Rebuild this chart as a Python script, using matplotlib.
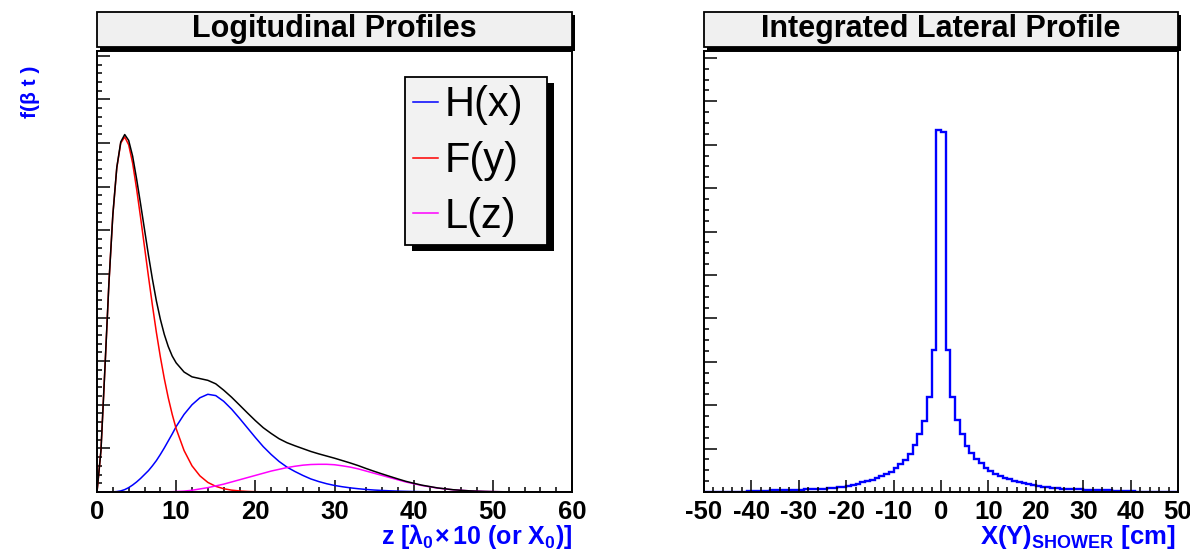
import numpy as np
import matplotlib
matplotlib.use("Agg")
import matplotlib.pyplot as plt
import matplotlib.patheffects as pe
from matplotlib.patches import Rectangle
from matplotlib.ticker import MultipleLocator, NullFormatter

plt.rcParams['font.family'] = ['Liberation Sans', 'DejaVu Sans']
plt.rcParams['mathtext.fontset'] = 'custom'
plt.rcParams['mathtext.rm'] = 'Liberation Sans'
plt.rcParams['mathtext.bf'] = 'Liberation Sans:bold'
plt.rcParams['mathtext.it'] = 'Liberation Sans:italic'

# longitudinal profiles: depth grid and the three components
z = [0, 0.5, 1, 1.5, 2, 2.5, 3, 3.5, 4, 4.5, 5, 5.5, 6, 6.5, 7, 7.5, 8, 8.5, 9, 9.5, 10,
     11, 12, 13, 14, 15, 16, 17, 18, 19, 20, 21, 22, 23, 24, 25, 26, 27, 28, 29, 30,
     31, 32, 33, 34, 35, 36, 37, 38, 39, 40, 41, 42, 43, 44, 45, 46, 47, 48, 49, 50,
     51, 52, 53, 54, 55, 56, 57, 58, 59, 60]

h_x = [0, 0, 0, 0, 0.003, 0.01, 0.025, 0.055, 0.1, 0.16, 0.23, 0.31, 0.4, 0.49, 0.6, 0.72, 0.86, 1.01, 1.17, 1.33, 1.5,
       1.78, 2.0, 2.16, 2.24, 2.21, 2.08, 1.9, 1.69, 1.47, 1.25, 1.04, 0.86, 0.7, 0.57, 0.47, 0.38, 0.3, 0.24, 0.19, 0.15,
       0.12, 0.095, 0.075, 0.058, 0.045, 0.035, 0.027, 0.02, 0.015, 0.011, 0.008, 0.006, 0.004, 0.003, 0.002, 0.001, 0, 0, 0, 0,
       0, 0, 0, 0, 0, 0, 0, 0, 0, 0]

f_y = [0, 0.95, 2.83, 4.77, 6.35, 7.43, 8.0, 8.14, 7.96, 7.54, 6.95, 6.3, 5.62, 4.94, 4.28, 3.66, 3.1, 2.6, 2.16, 1.78, 1.45,
       0.95, 0.6, 0.37, 0.22, 0.13, 0.075, 0.043, 0.024, 0.013, 0.007, 0.004, 0.002, 0.001, 0, 0, 0, 0, 0, 0, 0,
       0, 0, 0, 0, 0, 0, 0, 0, 0, 0, 0, 0, 0, 0, 0, 0, 0, 0, 0, 0,
       0, 0, 0, 0, 0, 0, 0, 0, 0, 0]

l_z = [0, 0, 0, 0, 0, 0, 0, 0, 0, 0, 0, 0, 0, 0, 0, 0.001, 0.002, 0.003, 0.005, 0.007, 0.01,
       0.02, 0.04, 0.07, 0.1, 0.14, 0.18, 0.23, 0.28, 0.33, 0.38, 0.43, 0.48, 0.52, 0.56, 0.59, 0.615, 0.63, 0.635, 0.635, 0.625,
       0.6, 0.57, 0.53, 0.48, 0.43, 0.38, 0.33, 0.28, 0.23, 0.19, 0.15, 0.12, 0.09, 0.07, 0.05, 0.038, 0.027, 0.019, 0.013, 0.009,
       0.006, 0.004, 0.003, 0.002, 0.001, 0, 0, 0, 0, 0]

# integrated lateral profile, 1 cm bins from -50 to 50
bin_edges = list(range(-50, 51))
lateral = [0, 0, 0, 0, 0, 0, 0, 0, 0.01, 0.02,
           0.02, 0.025, 0.03, 0.03, 0.035, 0.04, 0.04, 0.045, 0.05, 0.05,
           0.055, 0.06, 0.065, 0.07, 0.075, 0.08, 0.09, 0.10, 0.11, 0.12,
           0.14, 0.16, 0.19, 0.22, 0.25, 0.28, 0.32, 0.36, 0.41, 0.47,
           0.55, 0.64, 0.74, 0.87, 1.08, 1.34, 1.64, 2.20, 3.28, 8.33,
           8.30, 3.26, 2.19, 1.65, 1.34, 1.06, 0.90, 0.75, 0.66, 0.56,
           0.48, 0.42, 0.37, 0.33, 0.29, 0.26, 0.23, 0.20, 0.18, 0.155,
           0.14, 0.12, 0.11, 0.10, 0.09, 0.08, 0.075, 0.07, 0.065, 0.06,
           0.055, 0.05, 0.045, 0.04, 0.04, 0.035, 0.03, 0.03, 0.025, 0.02,
           0.02, 0.01, 0, 0, 0, 0, 0, 0, 0, 0]

total = np.array(h_x) + np.array(f_y) + np.array(l_z)

W, H = 1190, 552
fig = plt.figure(figsize=(W / 100, H / 100), dpi=100)
ax1 = fig.add_axes([97 / W, 60 / H, 475 / W, 441 / H])
ax2 = fig.add_axes([704 / W, 60 / H, 474 / W, 441 / H])

shadow = [pe.SimplePatchShadow(offset=(2.5, -2.5), shadow_rgbFace='black', alpha=1), pe.Normal()]


def style_axes(ax, title):
    for s in ax.spines.values():
        s.set_linewidth(1.4)
    ax.tick_params(which='both', direction='in', top=False, right=False, width=1.1)
    ax.tick_params(which='major', length=9, labelsize=18.5, pad=6)
    ax.tick_params(which='minor', length=3.6)
    ax.yaxis.set_major_formatter(NullFormatter())
    box = Rectangle((0, 1.008), 1.0, 0.081, transform=ax.transAxes, clip_on=False,
                    facecolor='#f0f0f0', edgecolor='black', lw=1.3, zorder=5)
    box.set_path_effects(shadow)
    ax.add_patch(box)
    ax.text(0.5, 1.049, title, transform=ax.transAxes, ha='center', va='center',
            fontsize=22, fontweight='bold', zorder=6)


# left: longitudinal profiles
ax1.plot(z, h_x, color='#0000ff', lw=1.1, label='H(x)')
ax1.plot(z, f_y, color='#ff0000', lw=1.1, label='F(y)')
ax1.plot(z, l_z, color='#ff00ff', lw=1.1, label='L(z)')
ax1.plot(z, total, color='black', lw=1.1)
ax1.set_xlim(0, 60)
ax1.set_ylim(0, 10.11)
ax1.xaxis.set_minor_locator(MultipleLocator(2))
ax1.yaxis.set_major_locator(MultipleLocator(1))
ax1.yaxis.set_minor_locator(MultipleLocator(0.2))
ax1.set_xticks(range(0, 61, 10))
ax1.set_xticklabels([str(v) for v in range(0, 61, 10)], fontweight='bold')
style_axes(ax1, 'Logitudinal Profiles')

leg = ax1.legend(loc='upper left', bbox_to_anchor=(0.648, 0.56, 0.299, 0.381), mode='expand',
                 borderaxespad=0, fontsize=30, handlelength=0.6, handletextpad=0.15,
                 borderpad=0.2, labelspacing=0.38, fancybox=False, framealpha=1)
leg.get_frame().set_facecolor('#f2f2f2')
leg.get_frame().set_edgecolor('black')
leg.get_frame().set_linewidth(1.3)
leg.get_frame().set_path_effects([pe.SimplePatchShadow(offset=(5, -4), shadow_rgbFace='black', alpha=1),
                                  pe.Normal()])

# right: lateral profile histogram
ax2.stairs(lateral, bin_edges, color='#0000ff', lw=1.7)
ax2.set_xlim(-50, 50)
ax2.set_ylim(0, 10.16)
ax2.set_xticks(range(-50, 51, 10))
ax2.set_xticklabels([str(v) for v in range(-50, 51, 10)], fontweight='bold')
ax2.xaxis.set_minor_locator(MultipleLocator(2))
ax2.yaxis.set_major_locator(MultipleLocator(1))
ax2.yaxis.set_minor_locator(MultipleLocator(0.25))
style_axes(ax2, 'Integrated Lateral Profile')

# axis titles
fig.text(31 / W, 1 - 66 / H, 'f(\u03b2 t )', rotation=90, ha='center', va='top',
         color='#0000ff', fontsize=15, fontweight='bold')
fig.text(572 / W, 1 - 544 / H, r'$\mathbf{z\ [\lambda_0\!\times 10\ (or\ X_0)]}$',
         ha='right', va='baseline', color='#0000ff', fontsize=18)
fig.text(1176 / W, 1 - 544 / H, r'$\mathbf{X(Y)_{SHOWER}\ [cm]}$',
         ha='right', va='baseline', color='#0000ff', fontsize=18.5)

fig.savefig('out.png', dpi=100)
